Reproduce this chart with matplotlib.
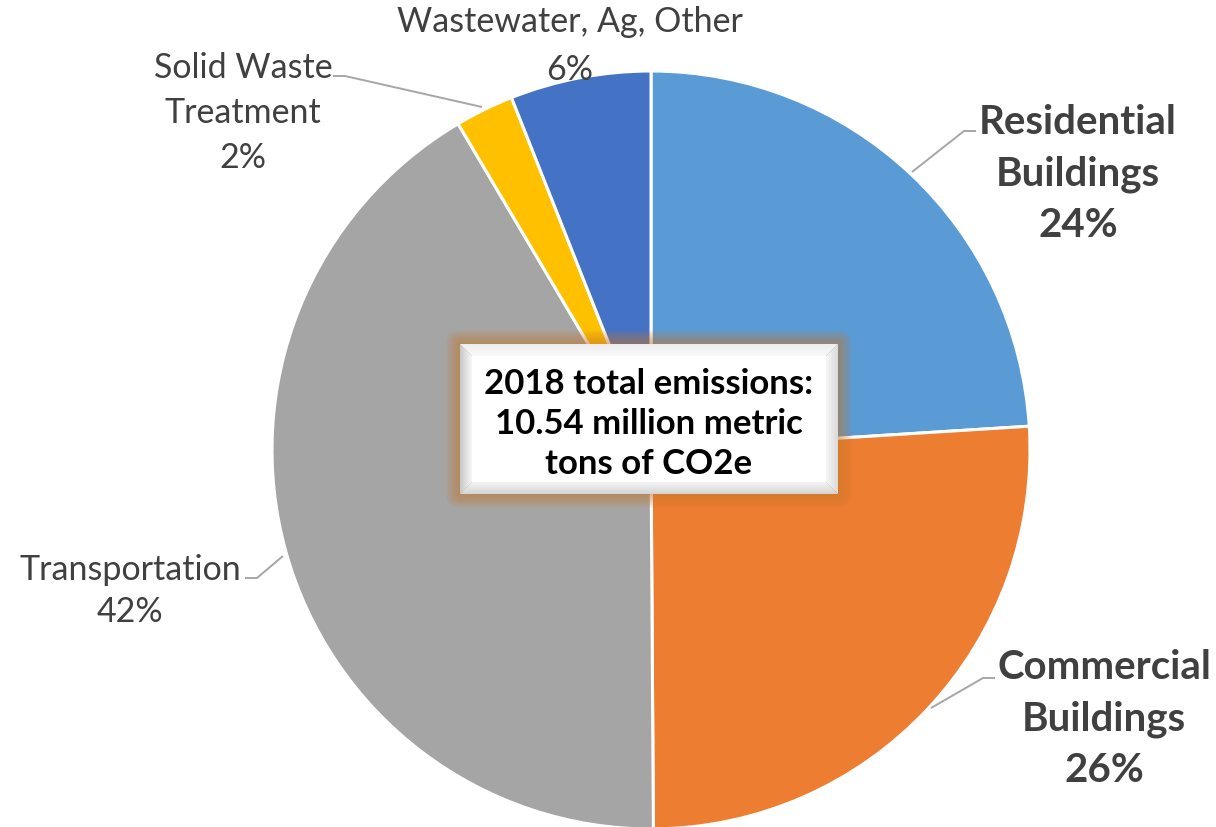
import numpy as np
import matplotlib
matplotlib.use("Agg")
import matplotlib.pyplot as plt
from matplotlib.patches import Polygon, Rectangle, FancyBboxPatch
from matplotlib.colors import to_rgb

# ---- data ----
categories = ["Residential\nBuildings", "Commercial\nBuildings", "Transportation",
              "Solid Waste\nTreatment", "Wastewater, Ag, Other"]
shares = [24.0, 25.9, 41.6, 2.5, 6.0]
pct_labels = ["24%", "26%", "42%", "2%", "6%"]
colors = ["#5B9BD5", "#ED7D31", "#A5A5A5", "#FFC000", "#4472C4"]
bold_label = [True, True, False, False, False]
center_text = "2018 total emissions:\n10.54 million metric\ntons of CO2e"

W, H = 1216, 828
def Y(y):
    return H - y

plt.rcParams['font.family'] = ['Lato', 'DejaVu Sans']
fig = plt.figure(figsize=(W / 100, H / 100), dpi=100)
ax = fig.add_axes([0, 0, 1, 1])

ax.pie(shares, colors=colors, startangle=90, counterclock=False,
       center=(651, Y(451)), radius=379,
       wedgeprops=dict(edgecolor='white', linewidth=2.2))

# ---- labels ----
label_pos = [(1078, 174), (1104, 719), (130, 591), (243, 113), (570, 46)]
label_ls = [1.47, 1.47, 1.42, 1.5, 1.6]
leaders = [
    [(976, 132), (964, 132), (912, 173)],
    [(995, 679), (983, 679), (931, 709)],
    [(245, 579), (257, 579), (283, 557)],
    [(333, 77), (345, 77), (482, 108)],
    None,
]
for cat, pct, (lx, ly), bold, ls, ld in zip(categories, pct_labels, label_pos,
                                            bold_label, label_ls, leaders):
    if bold:
        ax.text(lx, Y(ly), f"{cat}\n{pct}", ha='center', va='center', fontsize=29,
                fontweight='bold', color='#404040', linespacing=ls)
    else:
        ax.text(lx, Y(ly), f"{cat}\n{pct}", ha='center', va='center', fontsize=24.5,
                color='#404040', linespacing=ls)
    if ld is not None:
        xs = [p[0] for p in ld]
        ys = [Y(p[1]) for p in ld]
        ax.plot(xs, ys, color='#A6A6A6', lw=1.4, solid_capstyle='butt')

# ---- center box ----
x0, x1 = 460, 838
yt, yb = 345, 495
glow = to_rgb('#C97A2C')
for i in range(10):
    pad = 14 - i * 1.4
    ax.add_patch(FancyBboxPatch((x0, Y(yb)), x1 - x0, yb - yt,
                                boxstyle=f"round,pad={pad},rounding_size={pad}",
                                facecolor=glow, edgecolor='none', alpha=0.07, zorder=5))

b = 12
def grad_poly(verts, c_out, c_in, axis):
    poly = Polygon(verts, closed=True, facecolor='none', edgecolor='none', zorder=6)
    ax.add_patch(poly)
    xs = [v[0] for v in verts]
    ys = [v[1] for v in verts]
    co = np.array(to_rgb(c_out)); ci = np.array(to_rgb(c_in))
    t = np.linspace(0, 1, 64)
    g = co[None, :] * (1 - t[:, None]) + ci[None, :] * t[:, None]
    img = g[None, :, :] if axis == 'x' else g[:, None, :]
    im = ax.imshow(img, extent=(min(xs), max(xs), min(ys), max(ys)), origin='lower',
                   aspect='auto', zorder=6, interpolation='bilinear')
    im.set_clip_path(poly)

X0, X1, YT, YB = x0, x1, Y(yt), Y(yb)
grad_poly([(X0, YB), (X0 + b, YB + b), (X0 + b, YT - b), (X0, YT)], '#C8C8C8', '#F7F7F7', 'x')
grad_poly([(X1, YB), (X1 - b, YB + b), (X1 - b, YT - b), (X1, YT)], '#F7F7F7', '#DADADA', 'x')
grad_poly([(X0, YT), (X0 + b, YT - b), (X1 - b, YT - b), (X1, YT)], '#FAFAFA', '#EDEDED', 'y')
grad_poly([(X0, YB), (X0 + b, YB + b), (X1 - b, YB + b), (X1, YB)], '#D4D4D4', '#F5F5F5', 'y')
ax.add_patch(Rectangle((X0 + b, YB + b), (X1 - X0) - 2 * b, (YT - YB) - 2 * b,
                       facecolor='white', edgecolor='none', zorder=6))
ax.text((x0 + x1) / 2, Y(424), center_text, ha='center', va='center', fontsize=25,
        fontweight='bold', color='black', linespacing=1.31, zorder=7)

ax.set_xlim(0, W)
ax.set_ylim(0, H)
ax.axis('off')
fig.savefig("out.png", dpi=100, facecolor='white')
